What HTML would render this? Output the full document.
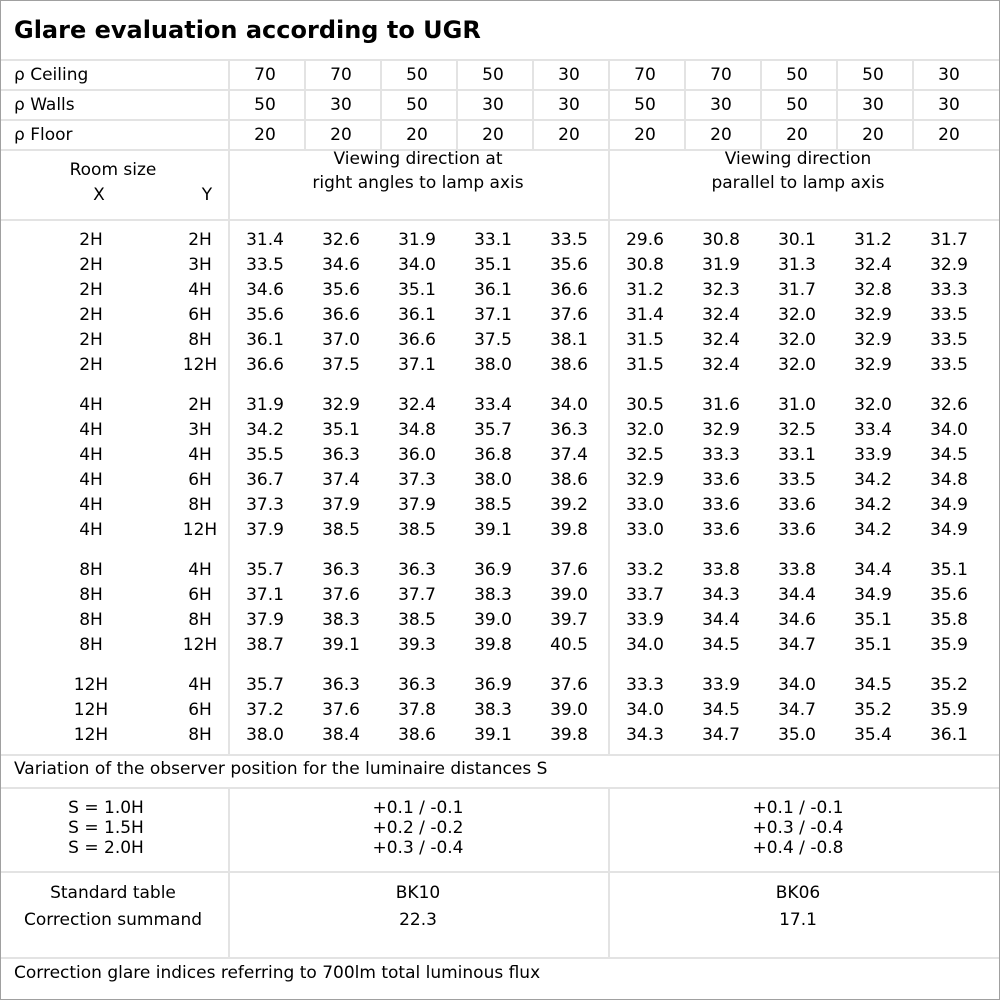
<!DOCTYPE html>
<html><head><meta charset="utf-8"><style>
html,body{margin:0;padding:0;background:#fff;}
#c{position:relative;width:1000px;height:1000px;overflow:hidden;font-family:"DejaVu Sans","Liberation Sans",sans-serif;font-size:17px;color:#000;}
.h{position:absolute;height:2px;background:#e3e3e3;}
.v{position:absolute;width:2px;background:#e3e3e3;}
.t{position:absolute;white-space:nowrap;line-height:20px;}
.cc{transform:translateX(-50%);}
</style></head><body><div id="c">
<div style="position:absolute;left:0;top:0;width:998px;height:998px;border:1px solid #a0a0a0;"></div>
<div class="t" style="left:14px;top:16px;font-size:24px;font-weight:bold;line-height:28px;">Glare evaluation according to UGR</div>
</div>
<script>
var c=document.getElementById('c');
function H(y,x1,x2){var d=document.createElement('div');d.className='h';d.style.top=y+'px';d.style.left=(x1||1)+'px';d.style.width=((x2||999)-(x1||1))+'px';c.appendChild(d);}
function V(x,y1,y2){var d=document.createElement('div');d.className='v';d.style.left=x+'px';d.style.top=y1+'px';d.style.height=(y2-y1)+'px';c.appendChild(d);}
function T(s,x,y,center){var d=document.createElement('div');d.className='t'+(center?' cc':'');d.style.left=x+'px';d.style.top=(y-9)+'px';d.textContent=s;c.appendChild(d);}
H(59);H(89);H(119);H(149);H(219);H(754);H(787);H(871);H(957);
for(var i=0;i<10;i++){V(228+76*i,59,149);}
V(228,149,754);V(608,149,754);V(228,787,957);V(608,787,957);
var hdr=[["ρ Ceiling",[70,70,50,50,30,70,70,50,50,30]],["ρ Walls",[50,30,50,30,30,50,30,50,30,30]],["ρ Floor",[20,20,20,20,20,20,20,20,20,20]]];
hdr.forEach(function(r,j){var y=74+30*j;T(r[0],14,y);r[1].forEach(function(v,k){T(String(v),265+76*k,y,1);});});
T("Room size",113,169,1);T("X",99,194,1);T("Y",207,194,1);
T("Viewing direction at",418,158,1);T("right angles to lamp axis",418,182,1);
T("Viewing direction",798,158,1);T("parallel to lamp axis",798,182,1);
var rows=[
["2H","2H","31.4 32.6 31.9 33.1 33.5 29.6 30.8 30.1 31.2 31.7"],
["2H","3H","33.5 34.6 34.0 35.1 35.6 30.8 31.9 31.3 32.4 32.9"],
["2H","4H","34.6 35.6 35.1 36.1 36.6 31.2 32.3 31.7 32.8 33.3"],
["2H","6H","35.6 36.6 36.1 37.1 37.6 31.4 32.4 32.0 32.9 33.5"],
["2H","8H","36.1 37.0 36.6 37.5 38.1 31.5 32.4 32.0 32.9 33.5"],
["2H","12H","36.6 37.5 37.1 38.0 38.6 31.5 32.4 32.0 32.9 33.5"],
null,
["4H","2H","31.9 32.9 32.4 33.4 34.0 30.5 31.6 31.0 32.0 32.6"],
["4H","3H","34.2 35.1 34.8 35.7 36.3 32.0 32.9 32.5 33.4 34.0"],
["4H","4H","35.5 36.3 36.0 36.8 37.4 32.5 33.3 33.1 33.9 34.5"],
["4H","6H","36.7 37.4 37.3 38.0 38.6 32.9 33.6 33.5 34.2 34.8"],
["4H","8H","37.3 37.9 37.9 38.5 39.2 33.0 33.6 33.6 34.2 34.9"],
["4H","12H","37.9 38.5 38.5 39.1 39.8 33.0 33.6 33.6 34.2 34.9"],
null,
["8H","4H","35.7 36.3 36.3 36.9 37.6 33.2 33.8 33.8 34.4 35.1"],
["8H","6H","37.1 37.6 37.7 38.3 39.0 33.7 34.3 34.4 34.9 35.6"],
["8H","8H","37.9 38.3 38.5 39.0 39.7 33.9 34.4 34.6 35.1 35.8"],
["8H","12H","38.7 39.1 39.3 39.8 40.5 34.0 34.5 34.7 35.1 35.9"],
null,
["12H","4H","35.7 36.3 36.3 36.9 37.6 33.3 33.9 34.0 34.5 35.2"],
["12H","6H","37.2 37.6 37.8 38.3 39.0 34.0 34.5 34.7 35.2 35.9"],
["12H","8H","38.0 38.4 38.6 39.1 39.8 34.3 34.7 35.0 35.4 36.1"]];
var y=239;
rows.forEach(function(r){if(!r){y+=15;return;}T(r[0],91,y,1);T(r[1],200,y,1);r[2].split(' ').forEach(function(v,k){T(v,265+76*k,y,1);});y+=25;});
T("Variation of the observer position for the luminaire distances S",14,768);
var s=[["S = 1.0H","+0.1 / -0.1","+0.1 / -0.1"],["S = 1.5H","+0.2 / -0.2","+0.3 / -0.4"],["S = 2.0H","+0.3 / -0.4","+0.4 / -0.8"]];
s.forEach(function(r,j){var yy=807+20*j;T(r[0],106,yy,1);T(r[1],418,yy,1);T(r[2],798,yy,1);});
T("Standard table",113,892,1);T("Correction summand",113,919,1);
T("BK10",418,892,1);T("22.3",418,919,1);T("BK06",798,892,1);T("17.1",798,919,1);
T("Correction glare indices referring to 700lm total luminous flux",14,972);
</script>
</body></html>
